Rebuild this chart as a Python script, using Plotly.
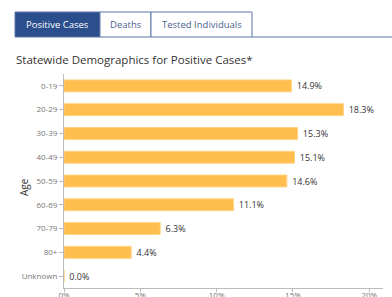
import plotly.graph_objects as go

categories = ["0-19", "20-29", "30-39", "40-49", "50-59", "60-69", "70-79", "80+", "Unknown"]
values = [14.9, 18.3, 15.3, 15.1, 14.6, 11.1, 6.3, 4.4, 0.0]
labels = ["\u00a0" + f"{v:.1f}%" for v in values]
x_ticks = [0, 5, 10, 15, 20]
x_tick_labels = ["0%", "5%", "10%", "15%", "20%"]
tabs = ["Positive Cases", "Deaths", "Tested Individuals"]

W, H = 392, 297
L, R, T, B = 64, 9, 74, 9
pw, ph = W - L - R, H - T - B

def px(x):
    return (x - L) / pw

def py(y):
    return (H - B - y) / ph

FONT = "Open Sans"

fig = go.Figure(go.Bar(
    x=values, y=categories, orientation="h",
    marker=dict(color="#ffbe4d", line=dict(color="#ffd27f", width=1)),
    width=0.5,
    text=labels, textposition="outside", cliponaxis=False, constraintext="none",
    textfont=dict(size=9, color="#333333", family=FONT),
    hoverinfo="skip",
))

shapes = []
# tab strip
tab_bounds = [(15, 100), (100, 151), (151, 252)]
for i, (a, b) in enumerate(tab_bounds):
    shapes.append(dict(type="rect", xref="paper", yref="paper",
                       x0=px(a), x1=px(b), y0=py(37), y1=py(12),
                       fillcolor="#2b4e8c" if i == 0 else "white",
                       line=dict(color="#5f76a8", width=1), layer="above"))
shapes.append(dict(type="line", xref="paper", yref="paper",
                   x0=px(252), x1=px(W), y0=py(37), y1=py(37),
                   line=dict(color="#5f76a8", width=1)))

annotations = []
for i, (t, (a, b)) in enumerate(zip(tabs, tab_bounds)):
    annotations.append(dict(text=t, xref="paper", yref="paper",
                            x=px((a + b) / 2), y=py(25), showarrow=False,
                            xanchor="center", yanchor="middle",
                            font=dict(size=9.5, family=FONT,
                                      color="white" if i == 0 else "#4a5f8f")))
annotations.append(dict(text="Statewide Demographics for Positive Cases*",
                        xref="paper", yref="paper", x=px(14), y=py(59),
                        xanchor="left", yanchor="middle", showarrow=False,
                        font=dict(size=11.5, family=FONT, color="#333333")))
annotations.append(dict(text="Age", xref="paper", yref="paper",
                        x=px(24), y=py(187), textangle=-90, showarrow=False,
                        xanchor="center", yanchor="middle",
                        font=dict(size=10, family=FONT, color="#333333")))

fig.update_layout(
    width=W, height=H,
    margin=dict(l=L, r=R, t=T, b=B),
    paper_bgcolor="white", plot_bgcolor="white",
    showlegend=False,
    shapes=shapes, annotations=annotations,
    xaxis=dict(range=[0, 20.9], tickvals=x_ticks, ticktext=x_tick_labels,
               automargin=False, ticklabelstandoff=-4,
               showgrid=False, zeroline=False, showline=True,
               linecolor="#bbbbbb", ticks="outside", ticklen=3,
               tickcolor="#bbbbbb", tickfont=dict(size=8, color="#777777", family=FONT)),
    yaxis=dict(categoryorder="array", categoryarray=categories, autorange="reversed",
               automargin=False,
               showgrid=False, zeroline=False, showline=True, linecolor="#bbbbbb",
               ticks="outside", ticklen=4, tickcolor="#bbbbbb",
               tickfont=dict(size=8, color="#777777", family=FONT)),
)

fig.write_html("out.html", config={"displayModeBar": False},
               post_script="document.body.style.margin='0px';")
